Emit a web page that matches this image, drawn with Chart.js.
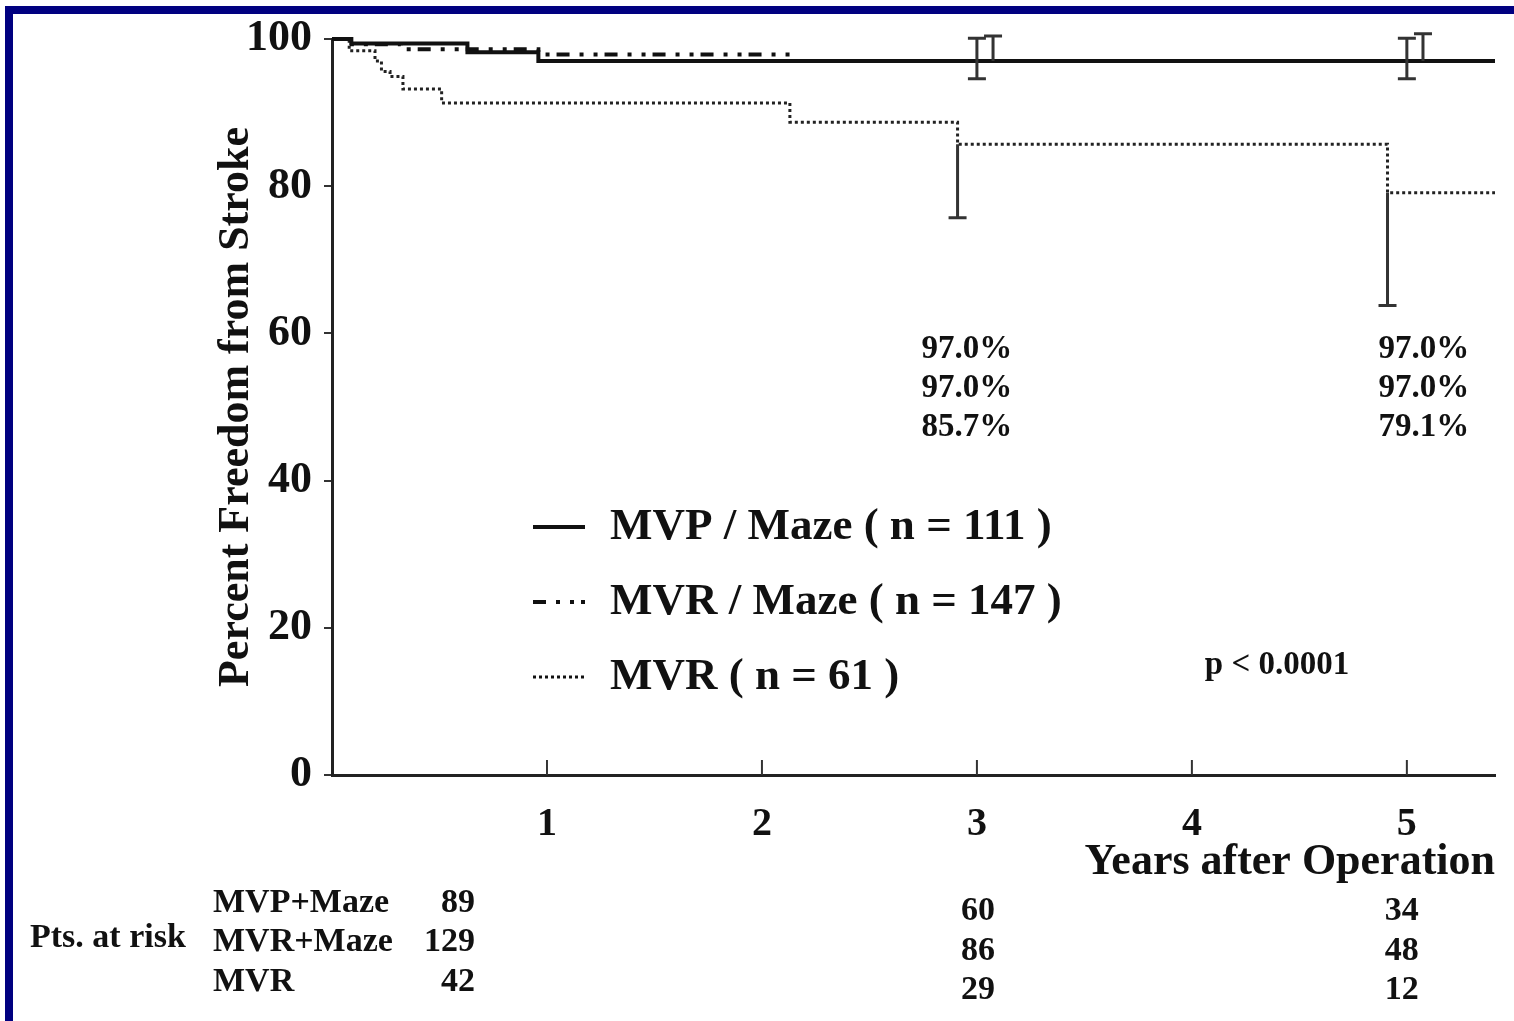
<!DOCTYPE html>
<html>
<head>
<meta charset="utf-8">
<title>Freedom from Stroke</title>
<script src="https://cdn.jsdelivr.net/npm/chart.js@4.4.1/dist/chart.umd.min.js"></script>
<style>
  html, body { margin: 0; padding: 0; background: #fff; }
  #wrap { position: relative; width: 1514px; height: 1021px; overflow: hidden; background: #fff; }
  #strokeChart { position: absolute; left: 0; top: 0; }
  .frame { position: absolute; background: #000080; }
  #frameTop { left: 5px; top: 6px; width: 1509px; height: 8px; }
  #frameLeft { left: 5px; top: 6px; width: 8px; height: 1015px; }
</style>
</head>
<body>
<div id="wrap">
  <canvas id="strokeChart" width="1514" height="1021"></canvas>
  <div id="frameTop" class="frame"></div>
  <div id="frameLeft" class="frame"></div>
</div>
<script>
// Kaplan-Meier steps: years after operation and percent free from stroke
const mvpMazeYears = [0, 0.09, 0.63, 0.96, 5.41];
const mvpMazeFree  = [100, 99.4, 98.2, 97.0, 97.0];
const mvrMazeYears = [0, 0.06, 0.32, 0.96, 2.13, 5.41];
const mvrMazeFree  = [100, 99.3, 98.6, 97.9, 97.0, 97.0];
const mvrYears = [0, 0.08, 0.2, 0.23, 0.27, 0.33, 0.51, 2.13, 2.91, 4.91, 5.41];
const mvrFree  = [100, 98.4, 97.0, 95.6, 94.9, 93.2, 91.3, 88.7, 85.7, 79.1, 79.1];

// confidence bars
const mvpMazeCiYears = [3.0, 5.0];
const mvpMazeCiLow   = [94.6, 94.6];
const mvpMazeCiHigh  = [100.1, 100.1];
const mvrMazeCiYears = [3.075, 5.075];
const mvrMazeCiLow   = [97.0, 97.0];
const mvrMazeCiHigh  = [100.4, 100.7];
const mvrCiYears = [2.91, 4.91];
const mvrCiLow   = [75.7, 63.8];
const mvrCiHigh  = [85.7, 79.1];

const xTicks = [1, 2, 3, 4, 5];
const yTicks = [0, 20, 40, 60, 80, 100];

const seriesNames = ['MVP / Maze ( n = 111 )', 'MVR / Maze ( n = 147 )', 'MVR ( n = 61 )'];
const riskNames = ['MVP+Maze', 'MVR+Maze', 'MVR'];
const riskYears = [0, 3, 5];
const riskMvpMaze = [89, 60, 34];
const riskMvrMaze = [129, 86, 48];
const riskMvr = [42, 29, 12];
const pctYears = [3, 5];
const pValue = 'p < 0.0001';

const serif = '"Liberation Serif", "Times New Roman", serif';
const ink = '#111';
const dashDot = [13, 10, 4, 10, 4, 7];
const dotted = [3, 3];

const toPoints = (xs, ys) => xs.map((v, i) => ({ x: v, y: ys[i] }));

// value of a step curve at a given year
function freeAt(xs, ys, t) {
  let v = ys[0];
  for (let i = 0; i < xs.length; i++) if (xs[i] <= t) v = ys[i];
  return v;
}

function drawText(ctx, str, px, py, size, align) {
  ctx.font = 'bold ' + size + 'px ' + serif;
  ctx.fillStyle = ink;
  ctx.textAlign = align || 'left';
  ctx.textBaseline = 'middle';
  ctx.fillText(str, px, py);
}

const errorBars = {
  id: 'errorBars',
  afterDatasetsDraw(chart) {
    const { ctx, scales: { x, y } } = chart;
    const groups = [
      [mvpMazeCiYears, mvpMazeCiLow, mvpMazeCiHigh, true, true],
      [mvrMazeCiYears, mvrMazeCiLow, mvrMazeCiHigh, false, true],
      [mvrCiYears, mvrCiLow, mvrCiHigh, true, false]
    ];
    ctx.save();
    ctx.strokeStyle = '#333';
    ctx.lineWidth = 3;
    groups.forEach(([ts, lo, hi, capLo, capHi]) => {
      ts.forEach((t, i) => {
        const px = x.getPixelForValue(t);
        const y0 = y.getPixelForValue(lo[i]);
        const y1 = y.getPixelForValue(hi[i]);
        ctx.beginPath();
        ctx.moveTo(px, y0);
        ctx.lineTo(px, y1);
        if (capLo) { ctx.moveTo(px - 9, y0); ctx.lineTo(px + 9, y0); }
        if (capHi) { ctx.moveTo(px - 9, y1); ctx.lineTo(px + 9, y1); }
        ctx.stroke();
      });
    });
    ctx.restore();
  }
};

const annotations = {
  id: 'annotations',
  afterDraw(chart) {
    const { ctx, chartArea, scales: { x, y } } = chart;
    ctx.save();

    // inward tick marks on the year axis
    ctx.strokeStyle = '#333';
    ctx.lineWidth = 2;
    x.ticks.forEach(t => {
      const px = x.getPixelForValue(t.value);
      ctx.beginPath();
      ctx.moveTo(px, chartArea.bottom);
      ctx.lineTo(px, chartArea.bottom - 15);
      ctx.stroke();
    });

    // legend
    const lx = chartArea.left + 201;
    const legendY = [527, 602, 677];
    const styles = [
      { dash: [], width: 4 },
      { dash: dashDot, width: 4 },
      { dash: dotted, width: 3 }
    ];
    styles.forEach((s, i) => {
      ctx.strokeStyle = ink;
      ctx.lineWidth = s.width;
      ctx.setLineDash(s.dash);
      ctx.beginPath();
      ctx.moveTo(lx, legendY[i]);
      ctx.lineTo(lx + 52, legendY[i]);
      ctx.stroke();
      ctx.setLineDash([]);
      drawText(ctx, seriesNames[i], lx + 77, legendY[i], 45);
    });

    // survival percentages at 3 and 5 years
    const pctOffsets = [-10, 17];
    const pctRows = [349, 388, 427];
    pctYears.forEach((t, j) => {
      const vals = [
        freeAt(mvpMazeYears, mvpMazeFree, t),
        freeAt(mvrMazeYears, mvrMazeFree, t),
        freeAt(mvrYears, mvrFree, t)
      ];
      vals.forEach((v, i) => {
        drawText(ctx, v.toFixed(1) + '%', x.getPixelForValue(t) + pctOffsets[j], pctRows[i], 33, 'center');
      });
    });

    drawText(ctx, pValue, 1277, 665, 33, 'center');

    // patients at risk
    drawText(ctx, 'Pts. at risk', 30, 938, 34);
    const rows = [riskMvpMaze, riskMvrMaze, riskMvr];
    const nameRows = [903, 942, 982];
    const numRows = [911, 951, 990];
    const colOffsets = [0, 1, -5];
    rows.forEach((r, i) => {
      drawText(ctx, riskNames[i], 213, nameRows[i], 34);
      drawText(ctx, String(r[0]), 475, nameRows[i], 34, 'right');
      for (let j = 1; j < riskYears.length; j++) {
        drawText(ctx, String(r[j]), x.getPixelForValue(riskYears[j]) + colOffsets[j], numRows[i], 34, 'center');
      }
    });

    ctx.restore();
  }
};

new Chart(document.getElementById('strokeChart'), {
  type: 'scatter',
  data: {
    datasets: [
      {
        label: seriesNames[0],
        data: toPoints(mvpMazeYears, mvpMazeFree),
        showLine: true, stepped: true, borderColor: ink, borderWidth: 4,
        pointRadius: 0, clip: false
      },
      {
        label: seriesNames[1],
        data: toPoints(mvrMazeYears, mvrMazeFree),
        showLine: true, stepped: true, borderColor: ink, borderWidth: 4,
        borderDash: dashDot, pointRadius: 0, clip: false
      },
      {
        label: seriesNames[2],
        data: toPoints(mvrYears, mvrFree),
        showLine: true, stepped: true, borderColor: '#222', borderWidth: 3,
        borderDash: dotted, pointRadius: 0, clip: false
      }
    ]
  },
  options: {
    responsive: false,
    animation: false,
    devicePixelRatio: 1,
    layout: { padding: { left: 206, top: 39, right: 19, bottom: 132 } },
    plugins: {
      legend: { display: false },
      tooltip: { enabled: false }
    },
    scales: {
      x: {
        type: 'linear',
        min: 0,
        max: 5.41,
        afterBuildTicks: (scale) => { scale.ticks = xTicks.map(v => ({ value: v })); },
        afterFit: (scale) => { scale.height = 114; },
        grid: { display: false },
        border: { display: true, color: '#222', width: 3 },
        ticks: {
          font: { family: serif, size: 40, weight: 'bold' },
          color: ink,
          padding: 18,
          maxRotation: 0
        },
        title: {
          display: true,
          text: 'Years after Operation',
          align: 'end',
          font: { family: serif, size: 44, weight: 'bold' },
          color: ink,
          padding: { top: 0, bottom: 0 }
        }
      },
      y: {
        min: 0,
        max: 100,
        afterBuildTicks: (scale) => { scale.ticks = yTicks.map(v => ({ value: v })); },
        afterFit: (scale) => { scale.width = 126; },
        grid: { drawOnChartArea: false, tickLength: 8, color: '#333', lineWidth: 2 },
        border: { display: true, color: '#222', width: 3 },
        ticks: {
          font: { family: serif, size: 44, weight: 'bold' },
          color: ink,
          padding: 12
        },
        title: {
          display: true,
          text: 'Percent Freedom from Stroke',
          font: { family: serif, size: 44, weight: 'bold' },
          color: ink,
          padding: { top: 4, bottom: 0 }
        }
      }
    }
  },
  plugins: [errorBars, annotations]
});
</script>
</body>
</html>
